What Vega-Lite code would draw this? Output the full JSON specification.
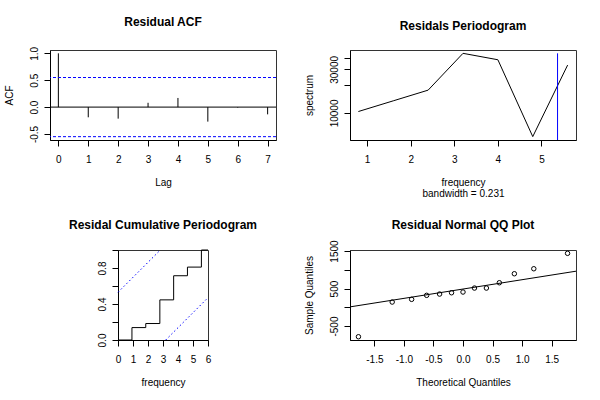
{
  "$schema": "https://vega.github.io/schema/vega-lite/v6.json",
  "padding": {"left": 3, "top": 15, "right": 0, "bottom": 0},
  "background": "white",
  "columns": 2,
  "bounds": "flush",
  "center": true,
  "spacing": {"row": 110, "column": 74},
  "config": {
    "font": "Liberation Sans",
    "view": {"stroke": "#333333", "strokeWidth": 1},
    "axis": {"grid": false, "domain": true, "domainColor": "black", "tickColor": "black", "tickSize": 6, "labelFont": "Liberation Sans", "labelFontSize": 10, "labelColor": "black", "titleFont": "Liberation Sans", "titleFontSize": 10, "titleFontWeight": "normal", "titleColor": "black", "labelOverlap": false, "labelFlush": false},
    "axisX": {"labelPadding": 8, "titlePadding": 13, "titleLineHeight": 11},
    "axisY": {"labelAngle": -90, "labelAlign": "center", "labelBaseline": "alphabetic", "labelPadding": 7, "titlePadding": 15},
    "title": {"font": "Liberation Sans", "fontSize": 12, "fontWeight": "bold", "color": "black", "frame": "group", "anchor": "middle", "baseline": "alphabetic"}
  },
  "concat": [
    {
      "title": {"text": "Residual ACF", "offset": 17},
      "width": 226,
      "height": 90,
      "layer": [
        {
          "data": {"values": [
            {"lag": 0, "acf": 1.0},
            {"lag": 1, "acf": -0.19},
            {"lag": 2, "acf": -0.215},
            {"lag": 3, "acf": 0.08},
            {"lag": 4, "acf": 0.17},
            {"lag": 5, "acf": -0.27},
            {"lag": 6, "acf": -0.01},
            {"lag": 7, "acf": -0.135}
          ]},
          "mark": {"type": "rule", "color": "black", "strokeWidth": 1},
          "encoding": {
            "x": {"field": "lag", "type": "quantitative", "scale": {"domain": [-0.28, 7.28], "nice": false, "zero": false}, "axis": {"title": "Lag", "values": [0, 1, 2, 3, 4, 5, 6, 7], "tickCount": 50, "format": "d", "labelOverlap": false}},
            "y": {"field": "acf", "type": "quantitative", "scale": {"domain": [-0.612, 1.062], "nice": false, "zero": false}, "axis": {"title": "ACF", "values": [-0.5, 0, 0.5, 1], "tickCount": 50, "labelOverlap": false, "labelExpr": "replace(format(datum.value, '.1f'), '\u2212', '-')"}},
            "y2": {"datum": 0}
          }
        },
        {
          "data": {"values": [{"clim": 0.55}, {"clim": -0.55}]},
          "mark": {"type": "rule", "color": "#0000ff", "strokeDash": [3, 2], "strokeWidth": 1},
          "encoding": {"y": {"field": "clim", "type": "quantitative"}}
        },
        {
          "data": {"values": [{"h": 0}]},
          "mark": {"type": "rule", "color": "black", "strokeWidth": 1},
          "encoding": {"y": {"field": "h", "type": "quantitative"}}
        }
      ]
    },
    {
      "title": {"text": "Residals Periodogram", "offset": 17},
      "width": 226,
      "height": 90,
      "layer": [
        {
          "data": {"values": [
            {"freq": 0.8, "spec": 10360},
            {"freq": 1.6, "spec": 13565},
            {"freq": 2.4, "spec": 17760},
            {"freq": 3.2, "spec": 44950},
            {"freq": 4.0, "spec": 38230},
            {"freq": 4.8, "spec": 5500},
            {"freq": 5.6, "spec": 33430}
          ]},
          "mark": {"type": "line", "color": "black", "strokeWidth": 1},
          "encoding": {
            "x": {"field": "freq", "type": "quantitative", "scale": {"domain": [0.608, 5.792], "nice": false, "zero": false}, "axis": {"title": ["frequency", "bandwidth = 0.231"], "values": [1, 2, 3, 4, 5], "tickCount": 50, "format": "d", "labelOverlap": false}},
            "y": {"field": "spec", "type": "quantitative", "scale": {"type": "log", "domain": [5050, 48900], "nice": false}, "axis": {"title": "spectrum", "values": [10000, 20000, 30000, 40000], "tickCount": 50, "labelOverlap": false, "labelExpr": "datum.value == 10000 || datum.value == 30000 ? format(datum.value, 'd') : ''"}}
          }
        },
        {
          "data": {"values": [{"cx": 5.369, "top": 44950, "bottom": 300}]},
          "mark": {"type": "rule", "color": "#0000ff", "strokeWidth": 1, "clip": true},
          "encoding": {
            "x": {"field": "cx", "type": "quantitative"},
            "y": {"field": "top", "type": "quantitative"},
            "y2": {"field": "bottom"}
          }
        }
      ]
    },
    {
      "title": {"text": "Residal Cumulative Periodogram", "offset": 16},
      "width": 90,
      "height": 90,
      "layer": [
        {
          "data": {"values": [
            {"f": 0, "cp": 0},
            {"f": 0.93, "cp": 0.138},
            {"f": 1.85, "cp": 0.183},
            {"f": 2.79, "cp": 0.446},
            {"f": 3.71, "cp": 0.714},
            {"f": 4.63, "cp": 0.81},
            {"f": 5.56, "cp": 1.0},
            {"f": 6, "cp": 1.0}
          ]},
          "mark": {"type": "line", "color": "black", "strokeWidth": 1, "interpolate": "step-after"},
          "encoding": {
            "x": {"field": "f", "type": "quantitative", "scale": {"domain": [0, 6], "nice": false, "zero": false}, "axis": {"title": "frequency", "values": [0, 1, 2, 3, 4, 5, 6], "tickCount": 50, "format": "d", "labelOverlap": false}},
            "y": {"field": "cp", "type": "quantitative", "scale": {"domain": [0, 1], "nice": false, "zero": false}, "axis": {"title": null, "values": [0, 0.2, 0.4, 0.6, 0.8, 1], "tickCount": 50, "labelOverlap": false, "labelExpr": "datum.value == 0 || datum.value == 0.4 || datum.value == 0.8 ? format(datum.value, '.1f') : ''"}}
          }
        },
        {
          "data": {"values": [
            {"band": "upper", "f": 0, "cp": 0.53},
            {"band": "upper", "f": 2.82, "cp": 1.0},
            {"band": "lower", "f": 3.18, "cp": 0},
            {"band": "lower", "f": 6, "cp": 0.47}
          ]},
          "mark": {"type": "line", "color": "#0000ff", "strokeWidth": 1, "strokeDash": [1.5, 2.5]},
          "encoding": {
            "x": {"field": "f", "type": "quantitative"},
            "y": {"field": "cp", "type": "quantitative"},
            "detail": {"field": "band", "type": "nominal"}
          }
        }
      ]
    },
    {
      "title": {"text": "Residual Normal QQ Plot", "offset": 8},
      "width": 226,
      "height": 90,
      "layer": [
        {
          "data": {"values": [
            {"theo": -1.769, "sample": -785},
            {"theo": -1.198, "sample": 140},
            {"theo": -0.869, "sample": 212},
            {"theo": -0.615, "sample": 319},
            {"theo": -0.396, "sample": 353},
            {"theo": -0.194, "sample": 388},
            {"theo": 0.0, "sample": 407},
            {"theo": 0.194, "sample": 513},
            {"theo": 0.396, "sample": 513},
            {"theo": 0.615, "sample": 655},
            {"theo": 0.869, "sample": 895},
            {"theo": 1.198, "sample": 1028},
            {"theo": 1.769, "sample": 1439}
          ]},
          "mark": {"type": "point", "shape": "circle", "filled": false, "color": "black", "strokeWidth": 1, "size": 20, "opacity": 1},
          "encoding": {
            "x": {"field": "theo", "type": "quantitative", "scale": {"domain": [-1.912, 1.912], "nice": false, "zero": false}, "axis": {"title": "Theoretical Quantiles", "values": [-1.5, -1, -0.5, 0, 0.5, 1, 1.5], "tickCount": 50, "labelOverlap": false, "labelExpr": "replace(format(datum.value, '.1f'), '\u2212', '-')"}},
            "y": {"field": "sample", "type": "quantitative", "scale": {"domain": [-872, 1528], "nice": false, "zero": false}, "axis": {"title": "Sample Quantiles", "values": [-500, 0, 500, 1000, 1500], "tickCount": 50, "labelOverlap": false, "labelExpr": "datum.value == 0 || datum.value == 1000 ? '' : replace(format(datum.value, 'd'), '\u2212', '-')"}}
          }
        },
        {
          "data": {"values": [{"theo": -1.912, "sample": 11}, {"theo": 1.912, "sample": 963}]},
          "mark": {"type": "line", "color": "black", "strokeWidth": 1},
          "encoding": {
            "x": {"field": "theo", "type": "quantitative"},
            "y": {"field": "sample", "type": "quantitative"}
          }
        }
      ]
    }
  ]
}
